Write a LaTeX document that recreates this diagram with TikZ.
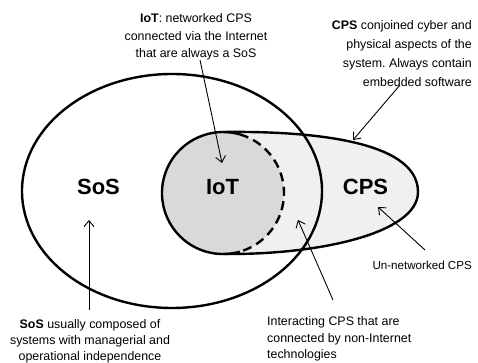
\documentclass[tikz,border=0pt]{standalone}
\usepackage{fontspec}
\setmainfont{Liberation Sans}
\usetikzlibrary{arrows.meta}
\frenchspacing
\begin{document}
\begin{tikzpicture}[x=1pt,y=1pt,
  outline/.style={line width=2.4pt},
  pointer/.style={line width=0.9pt,-{Straight Barb[length=6pt,width=10pt,line width=0.9pt]}},
  note/.style={font=\fontsize{12.4}{17.5}\selectfont,inner sep=0pt},
  biglabel/.style={font=\fontsize{22}{24}\selectfont\bfseries,inner sep=0pt}]
\useasboundingbox[fill=white] (0,0) rectangle (478,363);
% fills
\fill[gray!12] (223,231) .. controls (300,232) and (418,225) .. (418,171)
   .. controls (418,130) and (320,108) .. (223,109) arc[start angle=270,end angle=90,radius=61] -- cycle;
\fill[gray!30] (223,170) circle[radius=61];
% SoS ellipse
\draw[outline] (172,172) ellipse[x radius=150,y radius=117];
% CPS outline
\draw[outline] (223,231) .. controls (300,232) and (418,225) .. (418,171)
   .. controls (418,130) and (320,108) .. (223,109);
% IoT circle
\draw[outline] (239.8,228.6) arc[start angle=74,end angle=286,radius=61];
\draw[outline,dash pattern=on 9pt off 5.5pt] (239.8,228.6) arc[start angle=74,end angle=-74,radius=61];
% big labels
\node[biglabel] (sos) at (98.5,176) {SoS};
\node[biglabel] (iot) at (222.5,176) {IoT};
\node[biglabel] (cps) at (365.5,176) {CPS};
% notes
\node[note,align=center] (iotnote) at (196,326) {\textbf{IoT}: networked CPS\\connected via the Internet\\that are always a SoS};
\node[note,align=right,anchor=east,font=\fontsize{12.4}{19}\selectfont] (cpsnote) at (472,309.5) {\textbf{CPS} conjoined cyber and\\physical aspects of the\\system. Always contain\\embedded software};
\node[note,anchor=east,font=\fontsize{11.6}{17}\selectfont] (unnote) at (472,98) {Un-networked CPS};
\node[note,align=left,anchor=west,font=\fontsize{12.4}{16.5}\selectfont] (intnote) at (267,24) {Interacting CPS that are\\connected by non-Internet\\technologies};
\node[note,align=center,font=\fontsize{12.4}{16}\selectfont] (sosnote) at (90,22) {\textbf{SoS} usually composed of\\systems with managerial and\\operational independence};
% arrow ends
\coordinate (a1s) at (200,303); \coordinate (a1e) at (222,200);
\coordinate (a2s) at (400,278); \coordinate (a2e) at (353,223);
\coordinate (a3s) at (425,113); \coordinate (a3e) at (378,156);
\coordinate (a4s) at (333,63);  \coordinate (a4e) at (298,143);
\coordinate (a5s) at (89,53);   \coordinate (a5e) at (89,143);
\draw[pointer] (a1s) -- (a1e);
\draw[pointer] (a2s) -- (a2e);
\draw[pointer] (a3s) -- (a3e);
\draw[pointer] (a4s) -- (a4e);
\draw[pointer] (a5s) -- (a5e);
\end{tikzpicture}
\end{document}
